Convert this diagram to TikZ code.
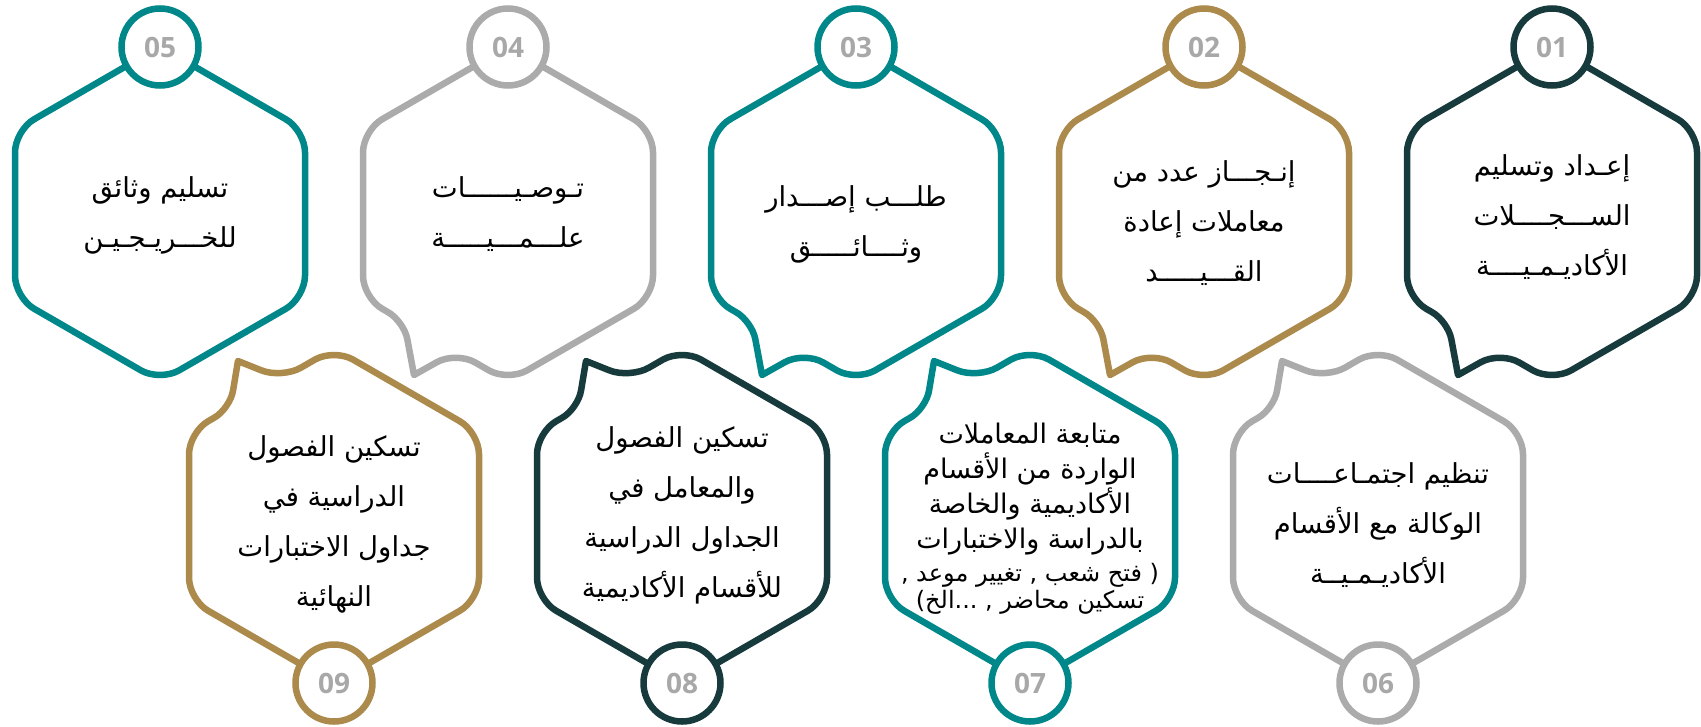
\documentclass[tikz,border=0pt]{standalone}
\usepackage{fontspec}
\TeXXeTstate=1
\newfontfamily\arabicfont[Script=Arabic]{DejaVu Sans}
\newfontfamily\numfont{Open Sans}
\definecolor{cdark}{HTML}{173A3C}
\definecolor{cgold}{HTML}{AB8A4B}
\definecolor{cteal}{HTML}{00878A}
\definecolor{cgray}{HTML}{ABABAB}
\definecolor{cnum}{HTML}{A8A8A8}
\newcommand{\ar}[1]{\beginR #1\endR}
\tikzset{
  hexline/.style={line width=6.5pt, fill=white, rounded corners=22pt, line join=round},
  numcirc/.style={circle, line width=6.5pt, fill=white, minimum size=77pt, inner sep=0pt,
    font=\numfont\bfseries\fontsize{28}{30}\selectfont, text=cnum},
  txt/.style={align=center, inner sep=0pt, text=black,
    font=\arabicfont\fontsize{27.5}{50}\selectfont},
}
% top hexagon with tail: #1 cx, #2 colour
\newcommand{\tophex}[2]{%
  \draw[hexline, draw=#2] (#1,46.6) -- (#1+145,130.3) -- (#1+145,297.7) -- (#1,381.4)
    -- (#1-52,351.4) [sharp corners] -- (#1-94,375) [rounded corners=18pt] -- (#1-104,321.4) [rounded corners=22pt]
    -- (#1-145,297.7) -- (#1-145,130.3) -- cycle;}
\newcommand{\bothex}[2]{%
  \draw[hexline, draw=#2] (#1,348.6) -- (#1-52,378.6) [sharp corners] -- (#1-96,361) [rounded corners=18pt]
    -- (#1-104,408.6) [rounded corners=22pt] -- (#1-145,432.3) -- (#1-145,599.7)
    -- (#1,683.4) -- (#1+145,599.7) -- (#1+145,432.3) -- cycle;}
\begin{document}
\begin{tikzpicture}[x=1pt,y=-1pt]
\useasboundingbox (0,0) rectangle (1701,726);
% top row
\draw[hexline, draw=cteal] (160,46.6) -- (305,130.3) -- (305,297.7) -- (160,381.4)
    -- (15,297.7) -- (15,130.3) -- cycle;
\tophex{508}{cgray}
\tophex{856}{cteal}
\tophex{1204}{cgold}
\tophex{1552}{cdark}
% bottom row
\bothex{334}{cgold}
\bothex{682}{cdark}
\bothex{1030}{cteal}
\bothex{1378}{cgray}
% circles
\node[numcirc, draw=cteal] (n05) at (160,47) {05};
\node[numcirc, draw=cgray] (n04) at (508,47) {04};
\node[numcirc, draw=cteal] (n03) at (856,47) {03};
\node[numcirc, draw=cgold] (n02) at (1204,47) {02};
\node[numcirc, draw=cdark] (n01) at (1552,47) {01};
\node[numcirc, draw=cgold] (n09) at (334,683) {09};
\node[numcirc, draw=cdark] (n08) at (682,683) {08};
\node[numcirc, draw=cteal] (n07) at (1030,683) {07};
\node[numcirc, draw=cgray] (n06) at (1378,683) {06};
% texts
\node[txt] (t01) at (1552,217) {\ar{إعـداد وتسليم}\\\ar{الســـجــــلات}\\\ar{الأكاديـمـيــــة}};
\node[txt] (t02) at (1204,223) {\ar{إنـجـــاز عدد من}\\\ar{معاملات إعادة}\\\ar{القـــيـــــد}};
\node[txt] (t03) at (856,224) {\ar{طلـــب إصـــدار}\\\ar{وثــــائـــــق}};
\node[txt] (t04) at (508,214) {\ar{تـوصـيــــــات}\\\ar{علـــمـــيـــــة}};
\node[txt] (t05) at (160,215) {\ar{تسليم وثائق}\\\ar{للخـــريـجـيـن}};
\node[txt] (t06) at (1378,525) {\ar{تنظيم اجتمـاعــــات}\\\ar{الوكالة مع الأقسام}\\\ar{الأكاديـمـيــة}};
\node[txt, font=\arabicfont\fontsize{27}{35}\selectfont] (t07) at (1030,519)
  {\ar{متابعة المعاملات}\\\ar{الواردة من الأقسام}\\\ar{الأكاديمية والخاصة}\\\ar{بالدراسة والاختبارات}\\[-2pt]
   {\fontsize{24}{26}\selectfont\ar{( فتح شعب , تغيير موعد ,}}\\[-8pt]{\fontsize{24}{26}\selectfont\ar{تسكين محاضر , ...الخ)}}};
\node[txt] (t08) at (682,515) {\ar{تسكين الفصول}\\\ar{والمعامل في}\\\ar{الجداول الدراسية}\\\ar{للأقسام الأكاديمية}};
\node[txt] (t09) at (334,524) {\ar{تسكين الفصول}\\\ar{الدراسية في}\\\ar{جداول الاختبارات}\\\ar{النهائية}};
\end{tikzpicture}
\end{document}
